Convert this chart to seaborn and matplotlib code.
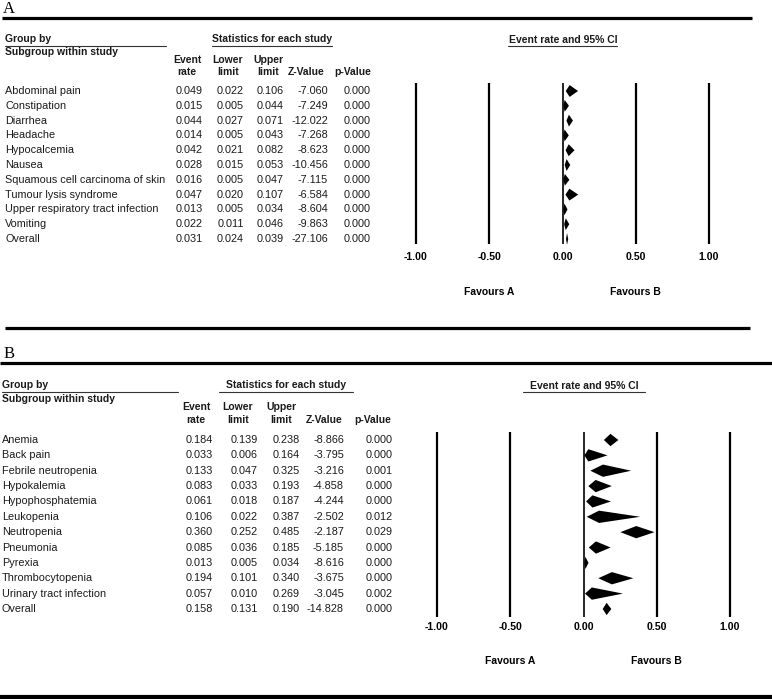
import matplotlib
matplotlib.use("Agg")
import matplotlib.pyplot as plt
import matplotlib.transforms as mtransforms
import seaborn as sns

# ---------------- data ----------------
labels_a = ["Abdominal pain", "Constipation", "Diarrhea", "Headache", "Hypocalcemia",
            "Nausea", "Squamous cell carcinoma of skin", "Tumour lysis syndrome",
            "Upper respiratory tract infection", "Vomiting", "Overall"]
rate_a = [0.049, 0.015, 0.044, 0.014, 0.042, 0.028, 0.016, 0.047, 0.013, 0.022, 0.031]
lower_a = [0.022, 0.005, 0.027, 0.005, 0.021, 0.015, 0.005, 0.020, 0.005, 0.011, 0.024]
upper_a = [0.106, 0.044, 0.071, 0.043, 0.082, 0.053, 0.047, 0.107, 0.034, 0.046, 0.039]
z_a = [-7.060, -7.249, -12.022, -7.268, -8.623, -10.456, -7.115, -6.584, -8.604, -9.863, -27.106]
p_a = [0.000, 0.000, 0.000, 0.000, 0.000, 0.000, 0.000, 0.000, 0.000, 0.000, 0.000]

labels_b = ["Anemia", "Back pain", "Febrile neutropenia", "Hypokalemia", "Hypophosphatemia",
            "Leukopenia", "Neutropenia", "Pneumonia", "Pyrexia", "Thrombocytopenia",
            "Urinary tract infection", "Overall"]
rate_b = [0.184, 0.033, 0.133, 0.083, 0.061, 0.106, 0.360, 0.085, 0.013, 0.194, 0.057, 0.158]
lower_b = [0.139, 0.006, 0.047, 0.033, 0.018, 0.022, 0.252, 0.036, 0.005, 0.101, 0.010, 0.131]
upper_b = [0.238, 0.164, 0.325, 0.193, 0.187, 0.387, 0.485, 0.185, 0.034, 0.340, 0.269, 0.190]
z_b = [-8.866, -3.795, -3.216, -4.858, -4.244, -2.502, -2.187, -5.185, -8.616, -3.675, -3.045, -14.828]
p_b = [0.000, 0.000, 0.001, 0.000, 0.000, 0.012, 0.029, 0.000, 0.000, 0.000, 0.002, 0.000]

axis_ticks = [-1.0, -0.5, 0.0, 0.5, 1.0]
favours = ["Favours A", "Favours B"]

# ---------------- style ----------------
sns.set_theme(style="white")
plt.rcParams["font.family"] = ["Liberation Sans", "DejaVu Sans"]

W, H = 772, 699
fig = plt.figure(figsize=(W / 100, H / 100), dpi=100)
bg = fig.add_axes([0, 0, 1, 1])
bg.set_xlim(0, W)
bg.set_ylim(H, 0)
bg.axis("off")

TXT = "#1a1a1a"
FS_DATA = 7.8
FS_HEAD = 7.5


def px_axes(x0, y0, x1, y1):
    return fig.add_axes([x0 / W, 1 - y1 / H, (x1 - x0) / W, (y1 - y0) / H])


def draw_panel(letter, L, labels, rate, lower, upper, z, p):
    bg.text(L["letter_x"], L["letter_y"], letter, family="Liberation Serif",
            fontsize=12, va="baseline", ha="left", color="black")
    bg.text(L["lab_x"], L["h1_y"], "Group by", fontsize=FS_HEAD, fontweight="bold",
            va="center", ha="left", color=TXT)
    bg.plot(L["grp_line"], [L["ul_y"], L["ul_y"]], color="#333333", lw=0.8)
    bg.text(L["lab_x"], L["h2_y"], "Subgroup within study", fontsize=FS_HEAD,
            fontweight="bold", va="center", ha="left", color=TXT)
    bg.text(sum(L["stat_line"]) / 2, L["h1_y"], "Statistics for each study",
            fontsize=FS_HEAD, fontweight="bold", va="center", ha="center", color=TXT)
    bg.plot(L["stat_line"], [L["ul_y"], L["ul_y"]], color="#333333", lw=0.8)

    heads = [("Event", "rate"), ("Lower", "limit"), ("Upper", "limit")]
    for (t1, t2), cx in zip(heads, L["head_cx"]):
        bg.text(cx, L["c1_y"], t1, fontsize=FS_HEAD, fontweight="bold",
                ha="center", va="center", color=TXT)
        bg.text(cx, L["c2_y"], t2, fontsize=FS_HEAD, fontweight="bold",
                ha="center", va="center", color=TXT)
    bg.text(L["z_head_r"], L["c2_y"], "Z-Value", fontsize=FS_HEAD, fontweight="bold",
            ha="right", va="center", color=TXT)
    bg.text(L["p_head_r"], L["c2_y"], "p-Value", fontsize=FS_HEAD, fontweight="bold",
            ha="right", va="center", color=TXT)

    n = len(labels)
    for i in range(n):
        y = L["row0"] + i * L["dy"]
        bg.text(L["lab_x"], y, labels[i], fontsize=FS_DATA, ha="left", va="center", color=TXT)
        vals = [f"{rate[i]:.3f}", f"{lower[i]:.3f}", f"{upper[i]:.3f}",
                f"{z[i]:.3f}", f"{p[i]:.3f}"]
        for v, xr in zip(vals, L["col_r"]):
            bg.text(xr, y, v, fontsize=FS_DATA, ha="right", va="center", color=TXT)

    xm1, xp1 = L["x_m1"], L["x_p1"]
    scale = (xp1 - xm1) / 2.0
    pad = 0.12
    ax = px_axes(xm1 - pad * scale, L["f_top"], xp1 + pad * scale, L["f_bot"])
    ax.set_xlim(-1 - pad, 1 + pad)
    ytop = (L["f_top"] - L["row0"]) / L["dy"]
    ybot = (L["f_bot"] - L["row0"]) / L["dy"]
    ax.set_ylim(ybot, ytop)
    ax.set_facecolor("none")
    for s in ax.spines.values():
        s.set_visible(False)
    for t in axis_ticks:
        ax.axvline(t, color="black", lw=1.6 if t != 0 else 1.2)
    h = L["dh"]
    for i in range(n):
        ax.fill([lower[i], rate[i], upper[i], rate[i]], [i, i - h, i, i + h],
                color="black", lw=0)
    ax.set_yticks([])
    ax.set_xticks(axis_ticks)
    ax.set_xticklabels([f"{t:.2f}" for t in axis_ticks], fontsize=7.6, fontweight="bold")
    ax.tick_params(axis="x", length=0, pad=L["tick_pad"], colors="black")

    tr = mtransforms.blended_transform_factory(ax.transData, bg.transData)
    bg.text(L["title_x"], L["h1_y"] + 1, "Event rate and 95% CI", fontsize=FS_HEAD,
            fontweight="bold", ha="center", va="center", color=TXT)
    bg.plot(L["title_line"], [L["ul_y"], L["ul_y"]], color="#333333", lw=0.8)
    for txt, xv in zip(favours, [-0.5, 0.5]):
        ax.text(xv, L["fav_y"], txt, transform=tr, fontsize=FS_HEAD, fontweight="bold",
                ha="center", va="center", color="black")


layout_a = dict(letter_x=3, letter_y=13, lab_x=5, h1_y=39, h2_y=52, ul_y=45.5,
                grp_line=[5, 166], stat_line=[212, 332],
                head_cx=[187, 228, 268], c1_y=60, c2_y=72, z_head_r=325, p_head_r=371,
                row0=91, dy=14.8, col_r=[203, 244, 284, 328, 371],
                x_m1=416, x_p1=709, f_top=83, f_bot=244, dh=0.4, tick_pad=6.0,
                title_x=563, title_line=[508, 617], fav_y=292)

layout_b = dict(letter_x=4, letter_y=358, lab_x=2, h1_y=385, h2_y=399, ul_y=392,
                grp_line=[2, 178], stat_line=[219, 353],
                head_cx=[196, 238, 281], c1_y=407, c2_y=420, z_head_r=343, p_head_r=391,
                row0=440, dy=15.36, col_r=[213, 258, 300, 344, 393],
                x_m1=437, x_p1=730, f_top=432, f_bot=617, dh=0.4, tick_pad=3.8,
                title_x=584, title_line=[523, 645], fav_y=661)

draw_panel("A", layout_a, labels_a, rate_a, lower_a, upper_a, z_a, p_a)
draw_panel("B", layout_b, labels_b, rate_b, lower_b, upper_b, z_b, p_b)

bg.plot([2, 752], [18, 18], color="black", lw=2.3, solid_capstyle="butt")
bg.plot([5, 750], [328, 328], color="black", lw=2.3, solid_capstyle="butt")
bg.plot([0, 772], [363, 363], color="black", lw=2.3, solid_capstyle="butt")
bg.plot([0, 772], [697, 697], color="black", lw=3.0, solid_capstyle="butt")

fig.savefig("out.png", dpi=100)
